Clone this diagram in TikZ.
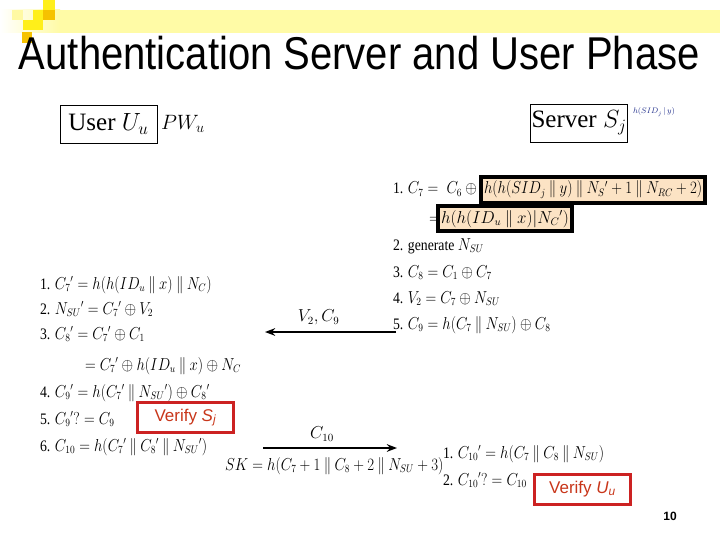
\documentclass[tikz,border=0pt]{standalone}
\usepackage{fontspec}
\setmainfont{Liberation Serif}
\setsansfont{Liberation Sans}
\usepackage{amsmath}
\usepackage{amssymb}
\usetikzlibrary{arrows.meta,positioning}
\definecolor{bandyellow}{HTML}{FFFBA6}
\definecolor{sqyellow}{HTML}{FFEF1A}
\definecolor{sqgold}{HTML}{F6C200}
\definecolor{peach}{HTML}{FCE3C4}
\definecolor{verifyred}{HTML}{CC2222}
\definecolor{verifytext}{HTML}{C8361A}
\definecolor{hashblue}{HTML}{22308C}
\newcommand{\nar}[1]{\scalebox{0.86}[1]{#1}}
\newcommand{\cat}{\mathbin{\|}}

\begin{document}
\begin{tikzpicture}[x=1pt, y=-1pt, >=Stealth,
  every node/.style={inner sep=0pt, outer sep=0pt},
  eqline/.style={anchor=base west, font=\fontsize{16}{19}\selectfont},
  party/.style={draw, line width=0.8pt, minimum width=97pt, minimum height=38pt, font=\fontsize{25}{28}\selectfont},
  hl/.style={draw, line width=4pt, fill=peach, inner xsep=3pt, inner ysep=4pt, anchor=base west, font=\fontsize{16}{19}\selectfont},
  verify/.style={draw=verifyred, line width=3pt, text=verifytext, minimum width=96pt, minimum height=30pt, font=\sffamily\fontsize{17}{20}\selectfont},
  msg/.style={->, line width=1.6pt}]
\path[use as bounding box] (0,0) rectangle (720,540);
% slide decoration
\shade[left color=white, right color=bandyellow] (0,10) rectangle (60,33);
\fill[bandyellow] (60,10) rectangle (720,33);
\fill[sqyellow!40] (12,10) rectangle (23,20);
\fill[sqyellow] (43,0) rectangle (55,10);
\fill[sqyellow] (33,10) rectangle (43,20);
\fill[sqgold] (43,10) rectangle (55,20);
\fill[sqyellow] (23,20) rectangle (33,30);
\fill[sqyellow] (33,20) rectangle (43,30);
\fill[sqgold] (22,32) rectangle (32,43);
\node[anchor=base west, font=\sffamily\fontsize{46}{50}\selectfont] (title) at (19,70) {\scalebox{0.87}[1]{Authentication Server and User Phase}};
% parties
\node[party] (user) at (108.5,124) {User $U_u$};
\node[right=4pt of user, font=\fontsize{21}{24}\selectfont] (pwu) {$PW_u$};
\node[party] (server) at (579,123) {Server $S_j$};
\node[anchor=west, font=\fontsize{8}{9}\selectfont, text=hashblue] (hsid) at (633,112) {$h(SID_j\,|\,y)$};
% server side
\node[eqline] (s1) at (393,194) {\nar{1. $C_7 =\; C_6 \oplus{}$}};
\node[hl] (hl1) at (481,194) {\nar{$h(h(SID_j\cat y)\cat N_S{}'+1\cat N_{RC}+2)$}};
\node[eqline] (s1b) at (429,223) {$=$};
\node[hl] (hl2) at (438,223) {\scalebox{0.98}[1]{$h(h(ID_u\cat x)|N_C{}')$}};
\node[eqline] (s2) at (393,250) {\nar{2. generate $N_{SU}$}};
\node[eqline] (s3) at (393,277) {\nar{3. $C_8 = C_1\oplus C_7$}};
\node[eqline] (s4) at (393,303) {\nar{4. $V_2 = C_7\oplus N_{SU}$}};
\node[eqline] (s5) at (393,329) {\nar{5. $C_9 = h(C_7\cat N_{SU})\oplus C_8$}};
% user side
\node[eqline] (u1) at (40,289) {\nar{1. $C_7{}' = h(h(ID_u\cat x)\cat N_C)$}};
\node[eqline] (u2) at (40,314) {\nar{2. $N_{SU}{}' = C_7{}'\oplus V_2$}};
\node[eqline] (u3) at (40,339) {\nar{3. $C_8{}' = C_7{}'\oplus C_1$}};
\node[eqline] (u3b) at (85,370) {\nar{$= C_7{}'\oplus h(ID_u\cat x)\oplus N_C$}};
\node[eqline] (u4) at (40,397) {\nar{4. $C_9{}' = h(C_7{}'\cat N_{SU}{}')\oplus C_8{}'$}};
\node[eqline] (u5) at (40,424) {\nar{5. $C_9{}'? = C_9$}};
\node[eqline] (u6) at (40,451) {\nar{6. $C_{10} = h(C_7{}'\cat C_8{}'\cat N_{SU}{}')$}};
\node[verify] (verifys) at (185.5,417.5) {Verify \textit{S}\textsubscript{\textit{j}}};
% session key and last checks
\node[eqline] (sk) at (225,470) {\nar{$SK = h(C_7+1\cat C_8+2\cat N_{SU}+3)$}};
\node[eqline] (r1) at (443,458) {\nar{1. $C_{10}{}' = h(C_7\cat C_8\cat N_{SU})$}};
\node[eqline] (r2) at (443,485) {\nar{2. $C_{10}{}'? = C_{10}$}};
\node[verify] (verifyu) at (582.5,489) {Verify \textit{U}\textsubscript{\textit{u}}};
% messages
\coordinate (v2tail) at (396,332);
\coordinate (v2head) at (265,332);
\draw[msg] (v2tail) -- node[pos=0.59, above=7pt, font=\fontsize{16}{19}\selectfont] {$V_2, C_9$} (v2head);
\coordinate (c10tail) at (263,448);
\coordinate (c10head) at (397,448);
\draw[msg] (c10tail) -- node[pos=0.44, above=7pt, font=\fontsize{16}{19}\selectfont] {$C_{10}$} (c10head);
\node[font=\sffamily\bfseries\fontsize{12}{14}\selectfont] (pagenum) at (670,516) {10};
\end{tikzpicture}
\end{document}
